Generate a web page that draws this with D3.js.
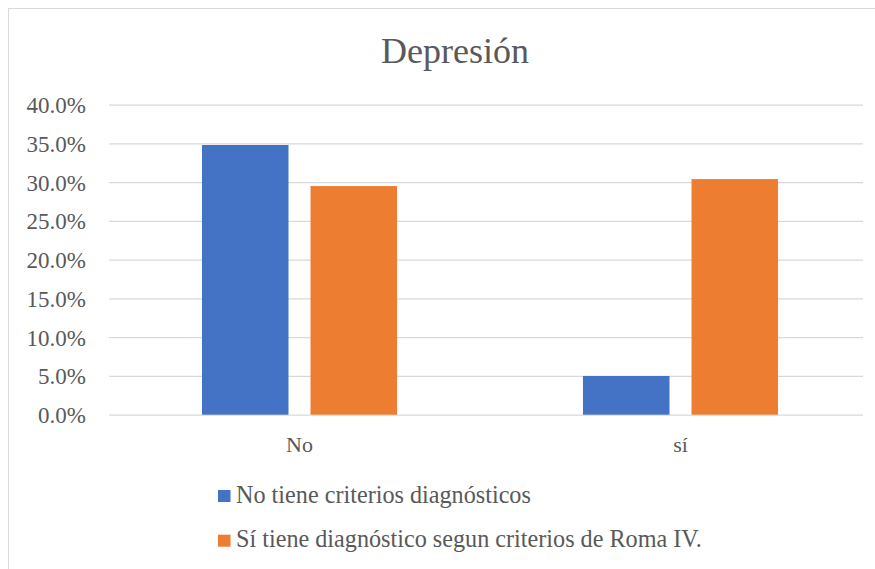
<!DOCTYPE html>
<html>
<head>
<meta charset="utf-8">
<script src="https://cdn.jsdelivr.net/npm/d3@7"></script>
</head>
<body style="margin:0;padding:0;background:#fff">
<svg id="chart" width="875" height="569" style="display:block"></svg>
<script>
const title = "Depresión";
const categories = ["No", "sí"];
const seriesNames = ["No tiene criterios diagnósticos", "Sí tiene diagnóstico segun criterios de Roma IV."];
const seriesColors = ["#4472C4", "#ED7D31"];
const noCriteria = [0.348, 0.050];
const siRoma = [0.295, 0.304];
const yTicks = [0, 0.05, 0.10, 0.15, 0.20, 0.25, 0.30, 0.35, 0.40];

const FONT = "Liberation Serif";
const TXT = "#595959";
const svg = d3.select("#chart");
const W = 875, H = 569;
const m = { left: 109, right: 4, top: 104.7, bottom: 569 - 414.7 };
const gridRight = 863;

svg.append("rect")
  .attr("x", 8.5).attr("y", 8.5)
  .attr("width", 900).attr("height", 600)
  .attr("fill", "#fff").attr("stroke", "#D9D9D9").attr("stroke-width", 1);

const x0 = d3.scaleBand().domain(categories)
  .range([m.left, W - m.right]).paddingInner(0.488).paddingOuter(0.244);
const x1 = d3.scaleBand().domain(d3.range(seriesNames.length))
  .range([0, x0.bandwidth()]).paddingInner(0.2028);
const y = d3.scaleLinear().domain([0, 0.4]).range([H - m.bottom, m.top]);

// gridlines
const grid = svg.append("g")
  .attr("transform", `translate(${m.left},0)`)
  .call(d3.axisLeft(y).tickValues(yTicks).tickSize(-(gridRight - m.left)).tickFormat(""));
grid.select(".domain").remove();
grid.selectAll("line").attr("stroke", "#D9D9D9").attr("stroke-width", 1.3);

// y labels
const yAxis = svg.append("g")
  .attr("transform", `translate(86,0)`)
  .call(d3.axisLeft(y).tickValues(yTicks).tickSize(0).tickPadding(0).tickFormat(d3.format(".1%")));
yAxis.select(".domain").remove();
yAxis.selectAll("text")
  .style("font-family", FONT).style("font-size", "23px")
  .attr("fill", TXT).attr("dy", "0.34em");

// bars
const data = categories.map((c, i) => ({ cat: c, vals: [noCriteria[i], siRoma[i]] }));
const groups = svg.append("g").selectAll("g").data(data).join("g")
  .attr("transform", d => `translate(${x0(d.cat)},0)`);
groups.selectAll("rect").data(d => d.vals.map((v, j) => ({ v, j }))).join("rect")
  .attr("x", d => x1(d.j))
  .attr("width", x1.bandwidth())
  .attr("y", d => y(d.v))
  .attr("height", d => y(0) - y(d.v))
  .attr("fill", d => seriesColors[d.j]);

// x axis labels
const xAxis = svg.append("g")
  .attr("transform", `translate(0,${y(0)})`)
  .call(d3.axisBottom(x0).tickSize(0).tickPadding(0));
xAxis.select(".domain").remove();
xAxis.selectAll("text")
  .style("font-family", FONT).style("font-size", "22px")
  .attr("fill", TXT).attr("y", 37).attr("dy", 0);

// title
svg.append("text")
  .attr("x", 455).attr("y", 63)
  .attr("text-anchor", "middle")
  .style("font-family", FONT).style("font-size", "36px")
  .attr("fill", TXT)
  .text(title);

// legend
const leg = svg.append("g").selectAll("g").data(seriesNames).join("g")
  .attr("transform", (d, i) => `translate(218,${490 + i * 44.7})`);
leg.append("rect").attr("width", 12.5).attr("height", 12).attr("fill", (d, i) => seriesColors[i]);
leg.append("text").attr("x", 18).attr("y", 12.5)
  .style("font-family", FONT).style("font-size", "24.2px")
  .attr("fill", TXT).text(d => d);
</script>
</body>
</html>
